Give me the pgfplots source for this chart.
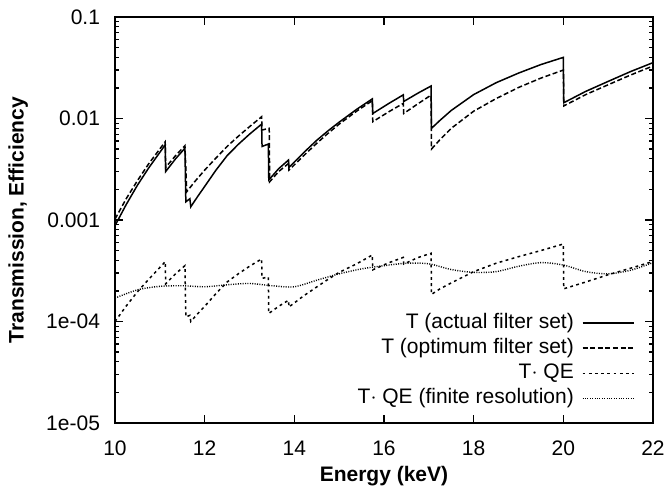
\documentclass[border=0pt]{standalone}
\usepackage{pgfplots}
\pgfplotsset{compat=1.18}
\usepackage{fontspec}
\setmainfont{Liberation Sans}
\newcommand{\fs}{\fontsize{10.5bp}{12.6bp}\selectfont}
\begin{document}
\begin{tikzpicture}
\begin{axis}[
  name=ax,
  scale only axis,
  width=269bp, height=203bp,
  xmin=10, xmax=22, ymin=1e-5, ymax=0.1,
  ymode=log,
  xtick={10,12,14,16,18,20,22},
  ytick={1e-5,1e-4,1e-3,1e-2,1e-1},
  yticklabels={1e-05,1e-04,0.001,0.01,0.1},
  /pgf/number format/assume math mode=true,
  tick label style={font=\fs},
  xticklabel style={yshift=-5.5bp},
  yticklabel style={xshift=-4bp},
  tick align=inside,
  major tick length=4bp, minor tick length=2.2bp,
  every tick/.style={black, line width=0.6bp},
  axis line style={line width=1.1bp},
  xlabel={\bfseries Energy (keV)},
  ylabel={\bfseries Transmission, Efficiency},
  xlabel style={font=\fs, at={(axis description cs:0.5,-0.132)}, anchor=center},
  ylabel style={font=\fs, at={(axis description cs:-0.18,0.5)}, anchor=center},
  legend cell align=right,
  legend plot pos=right,
  legend image code/.code={\draw[#1] (0bp,0bp) -- (25.5bp,0bp);},
  legend style={draw=none, fill=none, font=\fs,
    at={(axis description cs:0.966,0.035)}, anchor=south east,
    inner sep=0pt, row sep=2.8bp, column sep=4bp,
    nodes={inner sep=0pt, text height=7.6bp, text depth=2.2bp}},
]
\addplot[black, line width=0.75bp] coordinates {
(10,0.00088) (10.25,0.00142) (10.5,0.0022) (10.75,0.00325) (11.12,0.0055)
(11.13,0.0030) (11.35,0.0040) (11.56,0.0051)
(11.58,0.00151) (11.67,0.00162) (11.69,0.00135) (11.85,0.00172) (12.0,0.00214) (12.25,0.00309) (12.5,0.0043) (12.75,0.00556) (13.0,0.0070) (13.27,0.0088)
(13.28,0.0053) (13.42,0.0056)
(13.43,0.00248) (13.65,0.0032) (13.87,0.0039)
(13.88,0.0033) (14.2,0.00457) (14.5,0.0061) (14.75,0.00755) (15.0,0.0092) (15.4,0.0124) (15.74,0.0156)
(15.75,0.0112) (16.1,0.0140) (16.43,0.0171)
(16.44,0.0147) (16.75,0.0177) (17.05,0.0209)
(17.06,0.0080) (17.25,0.0096) (17.5,0.0120) (18.0,0.0172) (18.5,0.0225) (19.0,0.0280) (19.5,0.0340) (20.0,0.0400)
(20.01,0.0143) (20.5,0.0185) (21.0,0.0232) (21.5,0.0290) (22.0,0.0355)
};
\addlegendentry{T (actual filter set)}
\addplot[black, line width=0.75bp, dash pattern=on 2.5bp off 1.3bp] coordinates {
(10,0.00102) (10.25,0.00162) (10.5,0.00244) (10.75,0.00357) (11.12,0.0059)
(11.13,0.0033) (11.35,0.0043) (11.56,0.0054)
(11.6,0.0019) (11.8,0.00245) (12.0,0.0031) (12.25,0.00407) (12.5,0.0053) (12.75,0.00668) (13.0,0.0083) (13.27,0.0104)
(13.28,0.0077) (13.44,0.0080)
(13.45,0.00238) (13.65,0.0030) (13.87,0.0036)
(13.88,0.0031) (14.2,0.00427) (14.5,0.0057) (14.75,0.00713) (15.0,0.0088) (15.4,0.0119) (15.74,0.0150)
(15.75,0.0093) (16.1,0.0116) (16.43,0.0141)
(16.44,0.0112) (16.75,0.0139) (17.05,0.0170)
(17.06,0.0050) (17.25,0.0062) (17.5,0.0080) (18.0,0.0118) (18.5,0.0157) (19.0,0.0202) (19.5,0.0250) (20.0,0.0300)
(20.01,0.0133) (20.5,0.0172) (21.0,0.0215) (21.5,0.0268) (22.0,0.0329)
};
\addlegendentry{T (optimum filter set)}
\addplot[black, line width=0.75bp, dash pattern=on 1.4bp off 1.7bp] coordinates {
(10,1.0e-4) (10.25,1.42e-4) (10.5,1.96e-4) (10.75,2.6e-4) (11.12,3.88e-4)
(11.13,2.35e-4) (11.35,2.95e-4) (11.56,3.55e-4)
(11.58,1.11e-4) (11.67,1.15e-4) (11.69,1.0e-4) (11.85,1.2e-4) (12.0,1.41e-4) (12.25,1.88e-4) (12.5,2.45e-4) (12.75,2.95e-4) (13.0,3.5e-4) (13.27,4.13e-4)
(13.28,2.66e-4) (13.42,2.75e-4)
(13.43,1.20e-4) (13.65,1.41e-4) (13.87,1.62e-4)
(13.88,1.39e-4) (14.2,1.78e-4) (14.5,2.19e-4) (14.75,2.6e-4) (15.0,3.05e-4) (15.4,3.72e-4) (15.74,4.52e-4)
(15.75,3.23e-4) (16.1,3.78e-4) (16.43,4.28e-4)
(16.44,3.68e-4) (16.75,4.25e-4) (17.05,4.7e-4)
(17.06,1.85e-4) (17.25,2.1e-4) (17.5,2.4e-4) (18.0,3.1e-4) (18.5,3.75e-4) (19.0,4.35e-4) (19.5,5.0e-4) (20.0,5.8e-4)
(20.01,2.1e-4) (20.5,2.45e-4) (21.0,2.89e-4) (21.5,3.35e-4) (22.0,3.9e-4)
};
\addlegendentry{T$\cdot$ QE}
\addplot[black, line width=0.7bp, dash pattern=on 0.5bp off 0.7bp, smooth] coordinates {
(10,1.70e-4) (10.5,2.05e-4) (11,2.22e-4) (11.5,2.25e-4) (12,2.20e-4) (12.5,2.30e-4)
(13,2.37e-4) (13.5,2.25e-4) (14,2.20e-4) (14.5,2.55e-4) (15,2.95e-4) (15.5,3.3e-4)
(16,3.55e-4) (16.5,3.75e-4) (17,3.7e-4) (17.5,3.25e-4) (18,3.05e-4) (18.5,3.1e-4)
(19,3.5e-4) (19.5,3.8e-4) (20,3.6e-4) (20.5,3.1e-4) (21,2.95e-4) (21.5,3.2e-4) (22,3.8e-4)
};
\addlegendentry{T$\cdot$ QE (finite resolution)}
\end{axis}
\pgfresetboundingbox
\path (ax.south west) ++(-57.5bp,-36bp) rectangle ++(334.5bp,247.5bp);
\end{tikzpicture}
\end{document}
